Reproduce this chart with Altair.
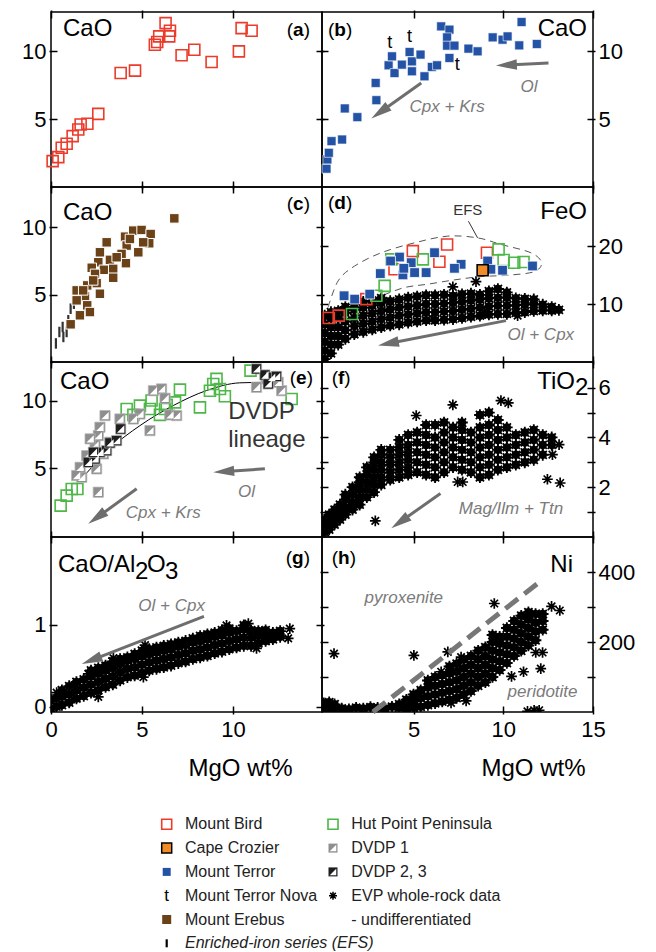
import math
import altair as alt
import pandas as pd

FONT = "Liberation Sans"
W, H = 271, 175
XL = [0.0, 14.9]
XR = [-0.1, 15.0]
Y_A = [0.0, 12.9]
Y_B = [0.0, 12.9]
Y_C = [0.0, 13.0]
Y_D = [0.0, 30.2]
Y_E = [-0.08, 12.85]
Y_F = [0.0, 7.03]
Y_G = [-0.065, 2.065]
Y_H = [0.0, 500.0]

RED = "#ec3b2b"; GREEN = "#4db748"; BLUE = "#2453a6"; BROWN = "#6b4118"; ORANGE = "#f28c28"
DV1 = "#8e8e8e"; DV23 = "#1e1e1e"; GREY = "#6e6e6e"; TGREY = "#7b7b7b"

AST = "M-1,0L1,0M0,-1L0,1M-0.7,-0.7L0.7,0.7M-0.7,0.7L0.7,-0.7"
HEAD = "M0,0L0.5,2L-0.5,2Z"
TRI = "M0.72,-0.72L0.72,0.72L-0.72,0.72Z"
BAR = "M0,-1L0,1"

# ---------------- data ----------------
# (a) Mount Bird, CaO vs MgO
a_bird_mgo = [0.09, 0.40, 0.59, 0.86, 1.19, 1.50, 1.63, 2.00, 2.60, 3.83, 4.62, 5.71, 5.84, 5.95, 6.30, 6.54, 6.50, 7.18, 7.88, 8.83, 10.33, 10.48, 11.03]
a_bird_cao = [1.91, 2.20, 2.89, 3.19, 3.75, 4.24, 4.61, 4.66, 5.39, 8.40, 8.58, 10.49, 10.69, 11.10, 12.08, 11.52, 11.10, 9.71, 10.12, 9.21, 10.00, 11.71, 11.52]

# (b) Mount Terror
b_terror_mgo = [0.15, 0.20, 0.28, 0.43, 1.02, 1.17, 1.87, 2.93, 2.89, 3.61, 3.80, 3.94, 4.35, 4.78, 4.91, 4.91, 5.39, 5.61, 6.02, 6.31, 6.54, 7.00, 6.87, 6.87, 7.28, 7.00, 8.06, 8.57, 9.41, 9.96, 10.24, 10.89, 11.02, 11.87]
b_terror_cao = [1.35, 2.03, 2.52, 3.38, 3.50, 5.79, 5.15, 6.40, 7.67, 8.97, 9.63, 8.40, 9.02, 9.95, 9.26, 8.53, 9.76, 8.16, 8.85, 8.97, 11.84, 11.60, 11.03, 10.42, 10.42, 9.51, 10.20, 10.00, 11.03, 10.86, 11.10, 10.44, 12.16, 10.54]
b_nova_mgo = [3.67, 4.78, 7.43]
b_nova_cao = [10.61, 11.03, 9.02]

# (c) Mount Erebus + EFS
c_erebus_mgo = [6.78, 3.06, 4.07, 4.52, 4.98, 5.48, 5.40, 4.80, 4.16, 3.88, 3.24, 2.69, 2.60, 2.24, 2.91, 3.42, 4.12, 3.42, 2.51, 1.99, 1.41, 2.69, 1.87, 1.99, 2.14, 1.59, 1.41, 1.08, 2.42, 3.61, 4.34, 5.07, 2.32, 1.77]
c_erebus_cao = [10.67, 8.89, 9.31, 9.76, 9.81, 9.51, 8.82, 8.15, 8.65, 8.03, 7.59, 8.15, 7.41, 7.00, 6.85, 6.92, 7.34, 6.26, 5.86, 5.69, 5.32, 5.07, 4.87, 4.21, 3.71, 3.47, 4.58, 2.80, 6.55, 7.78, 9.14, 8.89, 6.06, 5.32]
c_efs_mgo = [0.27, 0.46, 0.64, 0.86, 0.95, 1.08, 1.26, 0.68]
c_efs_cao = [1.38, 2.23, 2.60, 2.23, 3.10, 3.96, 4.33, 1.86]

# (d) FeO
d_bird_mgo = [6.87, 4.96, 6.44, 3.94, 2.37, 0.28, 0.83, 9.09]
d_bird_feo = [20.29, 19.14, 17.31, 16.0, 10.85, 7.59, 8.0, 18.86]
d_hut_mgo = [5.52, 9.74, 10.02, 10.61, 11.13, 3.39, 2.93, 1.57, 3.76]
d_hut_feo = [17.71, 19.43, 17.6, 17.14, 17.26, 13.14, 11.43, 8.28, 17.71]
d_terror_mgo = [4.22, 3.72, 4.87, 6.17, 4.41, 5.06, 5.70, 4.46, 3.15, 7.65, 7.28, 9.13, 9.31, 9.96, 11.63, 1.13, 1.72, 2.56]
d_terror_feo = [18.11, 17.43, 17.14, 18.86, 15.03, 15.43, 15.43, 16.17, 15.26, 16.86, 16.17, 17.43, 16.0, 15.83, 16.57, 11.43, 10.85, 11.71]
d_crozier_mgo = [8.85]
d_crozier_feo = [15.83]
d_efs_envelope = [(0.24, 9.42), (0.8, 14.0), (1.72, 16.57), (3.2, 18.85), (5.06, 20.57), (6.91, 21.72), (8.57, 21.42), (9.87, 20.29), (11.54, 18.85), (12.13, 17.14), (11.72, 15.59), (10.24, 14.97), (8.76, 14.74), (7.28, 14.17), (5.8, 13.43), (4.5, 12.85), (3.2, 11.42), (1.91, 10.0), (0.8, 8.28)]
d_evp = [
    (0.05, 0.5), (0.05, 2.0), (0.05, 3.5), (0.05, 5.0), (0.05, 6.5), (0.05, 8.0),
    (0.4, 1.5), (0.4, 3.0), (0.4, 4.5), (0.4, 6.0), (0.4, 7.5), (0.4, 8.6),
    (0.8, 3.0), (0.8, 4.5), (0.8, 6.0), (0.8, 7.5), (0.8, 8.8),
    (1.2, 4.0), (1.2, 5.5), (1.2, 7.0), (1.2, 8.5), (1.2, 9.5),
    (1.7, 4.8), (1.7, 6.2), (1.7, 7.6), (1.7, 9.0), (1.7, 10.0),
    (2.2, 5.2), (2.2, 6.6), (2.2, 8.0), (2.2, 9.4), (2.2, 10.4),
    (2.7, 5.6), (2.7, 7.0), (2.7, 8.4), (2.7, 9.8), (2.7, 10.6),
    (3.2, 6.0), (3.2, 7.4), (3.2, 8.8), (3.2, 10.2), (3.2, 11.0),
    (3.7, 6.3), (3.7, 7.7), (3.7, 9.1), (3.7, 10.5),
    (4.2, 6.5), (4.2, 8.0), (4.2, 9.4), (4.2, 10.8),
    (4.7, 6.8), (4.7, 8.2), (4.7, 9.6), (4.7, 11.1),
    (5.2, 7.0), (5.2, 8.4), (5.2, 9.8), (5.2, 11.3),
    (5.7, 7.2), (5.7, 8.6), (5.7, 10.0), (5.7, 11.5),
    (6.2, 7.2), (6.2, 8.6), (6.2, 10.0), (6.2, 11.5),
    (6.7, 7.3), (6.7, 8.7), (6.7, 10.1), (6.7, 11.6),
    (7.2, 7.4), (7.2, 8.8), (7.2, 10.2), (7.2, 11.4),
    (7.7, 7.6), (7.7, 9.0), (7.7, 10.4), (7.7, 11.7),
    (8.2, 7.8), (8.2, 9.2), (8.2, 10.6), (8.2, 11.8),
    (8.7, 8.0), (8.7, 9.4), (8.7, 10.8), (8.7, 11.6),
    (9.2, 8.2), (9.2, 9.6), (9.2, 11.0), (9.2, 12.2),
    (9.7, 8.3), (9.7, 9.7), (9.7, 11.1), (9.7, 12.6),
    (10.2, 8.3), (10.2, 9.7), (10.2, 11.1), (10.2, 12.0),
    (10.7, 8.5), (10.7, 9.8), (10.7, 11.0),
    (11.2, 8.6), (11.2, 9.9), (11.2, 10.9),
    (11.7, 8.8), (11.7, 10.0), (11.7, 10.8),
    (12.2, 8.9), (12.2, 9.9), (12.7, 8.9), (12.7, 9.5), (13.1, 9.0),
]
d_evp_outliers = [(7.19, 12.97), (8.48, 13.88), (6.07, 7.42), (10.8, 8.0), (8.94, 8.4), (3.2, 10.68)]

# (e) CaO
e_hut_mgo = [0.53, 0.86, 1.14, 1.45, 4.16, 4.53, 4.89, 5.44, 5.99, 6.36, 6.82, 7.09, 8.19, 8.92, 9.10, 9.29, 9.56, 10.97, 13.23, 5.53, 8.74, 6.27]
e_hut_cao = [2.24, 2.98, 3.47, 3.47, 9.38, 8.94, 9.63, 9.38, 8.94, 9.68, 9.87, 10.81, 9.50, 11.23, 11.60, 10.86, 10.32, 12.21, 10.12, 10.0, 10.73, 9.38]
e_dvdp1_mgo = [5.63, 6.08, 6.27, 6.54, 6.91, 5.44, 4.89, 4.53, 2.97, 2.69, 2.60, 2.42, 1.96, 1.60, 1.69, 2.51, 2.88, 3.24, 2.60, 3.79, 11.30, 11.85, 12.49, 12.68, 2.15, 1.41]
e_dvdp1_cao = [10.73, 10.86, 10.17, 8.94, 8.89, 7.78, 9.01, 8.64, 8.89, 8.03, 7.41, 6.72, 5.93, 5.07, 4.33, 4.95, 6.06, 6.92, 3.23, 8.64, 10.98, 11.60, 11.35, 10.73, 7.17, 4.46]
e_dvdp23_mgo = [2.05, 2.42, 2.69, 3.06, 3.24, 3.61, 3.83, 11.30, 11.76, 12.13, 11.94, 12.40, 2.33]
e_dvdp23_cao = [5.44, 5.69, 6.18, 6.30, 6.87, 7.04, 7.90, 12.34, 11.89, 11.72, 11.23, 11.79, 6.18]
e_lineage = [(1.59, 4.09), (3.24, 6.43), (4.89, 8.15), (6.72, 9.63), (8.55, 10.74), (10.38, 11.31), (11.85, 11.35)]

# (f) TiO2
f_evp = [
    (0.05, 0.2), (0.05, 0.45), (0.05, 0.7), (0.3, 0.3), (0.3, 0.6), (0.3, 0.9),
    (0.6, 0.5), (0.6, 0.8), (0.6, 1.1), (0.9, 0.7), (0.9, 1.0), (0.9, 1.3),
    (1.2, 0.9), (1.2, 1.2), (1.2, 1.5), (1.2, 1.7),
    (1.6, 1.1), (1.6, 1.4), (1.6, 1.7), (1.6, 2.0),
    (2.0, 1.3), (2.0, 1.6), (2.0, 1.9), (2.0, 2.2), (2.0, 2.4),
    (2.4, 1.6), (2.4, 1.9), (2.4, 2.2), (2.4, 2.5), (2.4, 2.8),
    (2.8, 1.8), (2.8, 2.1), (2.8, 2.4), (2.8, 2.7), (2.8, 3.0), (2.8, 3.2),
    (3.2, 2.1), (3.2, 2.4), (3.2, 2.7), (3.2, 3.0), (3.2, 3.3), (3.2, 3.5),
    (3.7, 2.3), (3.7, 2.6), (3.7, 2.9), (3.7, 3.2), (3.7, 3.5),
    (4.2, 2.4), (4.2, 2.7), (4.2, 3.0), (4.2, 3.3), (4.2, 3.6), (4.2, 3.9),
    (4.7, 2.5), (4.7, 2.8), (4.7, 3.1), (4.7, 3.4), (4.7, 3.7), (4.7, 4.1),
    (5.2, 2.6), (5.2, 3.0), (5.2, 3.4), (5.2, 3.8), (5.2, 4.2),
    (5.7, 2.5), (5.7, 2.9), (5.7, 3.3), (5.7, 3.7), (5.7, 4.1), (5.7, 4.5),
    (6.2, 2.4), (6.2, 2.8), (6.2, 3.2), (6.2, 3.6), (6.2, 4.0), (6.2, 4.5),
    (6.7, 2.6), (6.7, 3.0), (6.7, 3.4), (6.7, 3.8), (6.7, 4.2), (6.7, 4.6),
    (7.2, 2.8), (7.2, 3.2), (7.2, 3.6), (7.2, 4.0), (7.2, 4.4),
    (7.7, 2.7), (7.7, 3.1), (7.7, 3.5), (7.7, 3.9), (7.7, 4.3), (7.7, 4.6),
    (8.2, 2.6), (8.2, 3.0), (8.2, 3.4), (8.2, 3.8), (8.2, 4.2),
    (8.7, 2.4), (8.7, 2.8), (8.7, 3.2), (8.7, 3.6), (8.7, 4.0), (8.7, 4.4), (8.7, 4.9),
    (9.2, 2.5), (9.2, 2.9), (9.2, 3.3), (9.2, 3.7), (9.2, 4.1), (9.2, 4.5), (9.2, 5.0),
    (9.7, 2.7), (9.7, 3.1), (9.7, 3.5), (9.7, 3.9), (9.7, 4.3), (9.7, 4.7),
    (10.2, 2.8), (10.2, 3.2), (10.2, 3.6), (10.2, 4.0), (10.2, 4.4),
    (10.7, 2.9), (10.7, 3.3), (10.7, 3.7), (10.7, 4.1),
    (11.2, 3.0), (11.2, 3.4), (11.2, 3.8), (11.2, 4.2),
    (11.7, 3.1), (11.7, 3.5), (11.7, 3.9), (11.7, 4.3),
    (12.2, 3.3), (12.2, 3.7), (12.2, 4.1), (12.7, 3.7), (12.7, 4.0),
]
f_evp_outliers = [(7.19, 5.31), (9.87, 5.48), (10.28, 5.39), (5.15, 4.88), (7.46, 2.21), (7.74, 2.21),
                  (12.46, 2.32), (13.17, 2.17), (2.87, 0.65), (12.74, 3.31), (13.11, 3.71)]

# (g) CaO/Al2O3
g_evp = [
    (0.0, -0.02), (0.0, 0.08), (0.3, 0.0), (0.3, 0.1), (0.6, 0.02), (0.6, 0.12), (0.6, 0.2),
    (1.0, 0.05), (1.0, 0.15), (1.0, 0.25), (1.4, 0.1), (1.4, 0.2), (1.4, 0.3),
    (1.8, 0.13), (1.8, 0.23), (1.8, 0.33), (2.2, 0.17), (2.2, 0.27), (2.2, 0.37), (2.2, 0.44),
    (2.6, 0.2), (2.6, 0.3), (2.6, 0.4), (2.6, 0.47), (3.0, 0.24), (3.0, 0.34), (3.0, 0.44), (3.0, 0.5),
    (3.4, 0.27), (3.4, 0.37), (3.4, 0.47), (3.4, 0.55), (3.8, 0.32), (3.8, 0.42), (3.8, 0.52), (3.8, 0.58),
    (4.2, 0.36), (4.2, 0.46), (4.2, 0.56), (4.2, 0.6), (4.6, 0.38), (4.6, 0.48), (4.6, 0.58), (4.6, 0.64),
    (5.0, 0.41), (5.0, 0.51), (5.0, 0.61), (5.0, 0.68), (5.4, 0.44), (5.4, 0.54), (5.4, 0.64), (5.4, 0.7),
    (5.8, 0.46), (5.8, 0.56), (5.8, 0.66), (5.8, 0.72), (6.2, 0.48), (6.2, 0.58), (6.2, 0.68), (6.2, 0.74),
    (6.6, 0.5), (6.6, 0.6), (6.6, 0.7), (6.6, 0.76), (7.0, 0.53), (7.0, 0.63), (7.0, 0.73), (7.0, 0.78),
    (7.4, 0.55), (7.4, 0.65), (7.4, 0.75), (7.4, 0.8), (7.8, 0.58), (7.8, 0.68), (7.8, 0.78), (7.8, 0.83),
    (8.2, 0.6), (8.2, 0.7), (8.2, 0.8), (8.2, 0.86), (8.6, 0.62), (8.6, 0.72), (8.6, 0.82), (8.6, 0.88),
    (9.0, 0.65), (9.0, 0.75), (9.0, 0.85), (9.0, 0.9), (9.4, 0.67), (9.4, 0.77), (9.4, 0.87), (9.4, 0.93),
    (9.8, 0.7), (9.8, 0.8), (9.8, 0.9), (9.8, 0.95), (10.2, 0.72), (10.2, 0.82), (10.2, 0.92),
    (10.6, 0.74), (10.6, 0.84), (10.6, 0.94), (10.6, 0.99), (11.0, 0.74), (11.0, 0.84), (11.0, 0.93),
    (11.4, 0.77), (11.4, 0.86), (11.4, 0.92), (11.8, 0.8), (11.8, 0.88), (11.8, 0.93),
    (12.2, 0.82), (12.2, 0.9), (12.6, 0.85), (12.6, 0.92),
]
g_evp_outliers = [(5.17, 0.75), (3.43, 0.59), (2.6, 0.12), (2.05, 0.40), (13.13, 0.95), (13.04, 0.83),
                  (5.08, 0.36), (1.38, 0.27), (0.31, 0.17), (10.85, 1.01), (9.65, 0.99), (11.3, 0.71)]

# (h) Ni
h_evp = [
    (0.0, 8), (0.0, 25), (0.3, 10), (0.3, 28), (0.6, 8), (0.6, 22), (1.0, 10), (1.4, 8), (1.8, 12),
    (2.2, 10), (2.6, 14), (3.0, 12), (3.4, 10), (3.8, 15), (4.2, 12), (4.2, 22), (4.6, 10), (4.6, 25), (4.6, 35),
    (5.0, 12), (5.0, 30), (5.0, 50), (5.4, 15), (5.4, 40), (5.4, 62),
    (5.8, 20), (5.8, 45), (5.8, 70), (5.8, 90), (6.2, 25), (6.2, 50), (6.2, 75), (6.2, 100),
    (6.6, 30), (6.6, 55), (6.6, 80), (6.6, 105), (7.0, 35), (7.0, 60), (7.0, 85), (7.0, 110), (7.0, 130),
    (7.4, 40), (7.4, 65), (7.4, 90), (7.4, 115), (7.4, 138), (7.8, 50), (7.8, 75), (7.8, 100), (7.8, 125), (7.8, 150),
    (8.2, 60), (8.2, 85), (8.2, 110), (8.2, 135), (8.2, 160), (8.6, 75), (8.6, 100), (8.6, 125), (8.6, 150), (8.6, 175),
    (9.0, 85), (9.0, 110), (9.0, 135), (9.0, 160), (9.0, 185),
    (9.4, 100), (9.4, 125), (9.4, 150), (9.4, 175), (9.4, 200), (9.4, 220),
    (9.8, 120), (9.8, 145), (9.8, 170), (9.8, 195), (9.8, 215),
    (10.2, 140), (10.2, 165), (10.2, 190), (10.2, 215), (10.2, 240),
    (10.6, 160), (10.6, 185), (10.6, 210), (10.6, 235), (10.6, 260),
    (11.0, 175), (11.0, 200), (11.0, 225), (11.0, 250), (11.0, 275),
    (11.4, 190), (11.4, 215), (11.4, 240), (11.4, 265), (11.4, 285),
    (11.8, 205), (11.8, 230), (11.8, 255), (11.8, 280), (12.2, 235), (12.2, 260), (12.2, 280),
]
h_evp_outliers = [(0.57, 167), (5.02, 162), (9.5, 310), (10.46, 102), (11.13, 115), (12.09, 124), (11.81, 170),
                  (12.19, 170), (11.35, 2), (12.0, 5), (7.93, 32), (7.09, 26), (6.91, 172), (12.69, 302),
                  (13.15, 290), (7.65, 157), (6.54, 115), (11.72, 5)]
h_split_line = [(2.74, 0), (11.91, 367)]

# arrows: (x_start, y_start, x_tip, y_tip)
b_arrow_ol = (12.52, 9.14, 9.59, 8.95)
b_arrow_cpx = (5.43, 7.67, 2.65, 5.05)
d_arrow = (10.15, 7.14, 3.02, 2.85)
e_arrow_cpx = (4.71, 3.48, 2.05, 0.89)
e_arrow_ol = (11.76, 4.96, 8.92, 4.70)
f_arrow = (6.5, 1.75, 3.76, 0.35)
g_arrow = (8.41, 1.10, 1.69, 0.52)

LEG_LEFT = ["Mount Bird", "Cape Crozier", "Mount Terror", "Mount Terror Nova", "Mount Erebus", "Enriched-iron series (EFS)"]
LEG_RIGHT = ["Hut Point Peninsula", "DVDP 1", "DVDP 2, 3", "EVP whole-rock data", "- undifferentiated"]
KEYS_LEFT = ["bird", "crozier", "terror", "nova", "erebus", "efs"]
KEYS_RIGHT = ["hut", "dvdp1", "dvdp23", "evp", "none"]


# ---------------- helpers ----------------
def S(dom):
    return alt.Scale(domain=dom, nice=False, zero=False)


def exy(xd, yd, xf="x", yf="y"):
    return dict(x=alt.X(f"{xf}:Q", scale=S(xd), axis=None),
                y=alt.Y(f"{yf}:Q", scale=S(yd), axis=None))


def dfxy(xs, ys):
    return pd.DataFrame({"x": xs, "y": ys})


def dfp(p):
    return pd.DataFrame(p, columns=["x", "y"])


def m_ast(df, xd, yd, size=135, sw=1.8):
    return alt.Chart(df).mark_point(shape=AST, filled=False, color="black", size=size,
                                    strokeWidth=sw, opacity=1, clip=True).encode(**exy(xd, yd))


def m_cloud(core, outl, xd, yd):
    dfc = dfp(core)
    disc = alt.Chart(dfc).mark_circle(color="black", size=72, opacity=1, clip=True).encode(**exy(xd, yd))
    return [disc, m_ast(dfc, xd, yd), m_ast(dfp(outl), xd, yd, size=115, sw=1.7)]


def m_open(df, xd, yd, color, size=121):
    return alt.Chart(df).mark_point(shape="square", filled=False, color=color, size=size,
                                    strokeWidth=1.6, opacity=1).encode(**exy(xd, yd))


def m_fill(df, xd, yd, color, size=85, stroke="white", sw=0.8):
    return alt.Chart(df).mark_point(shape="square", filled=True, fill=color, stroke=stroke,
                                    strokeWidth=sw, size=size, opacity=1).encode(**exy(xd, yd))


def m_dvdp(df, xd, yd, color, size=105):
    sq = m_fill(df, xd, yd, color, size=size, stroke="#b5b5b5", sw=0.7)
    tri = alt.Chart(df).mark_point(shape=TRI, filled=True, color="white", size=size,
                                   opacity=1).encode(**exy(xd, yd))
    return [sq, tri]


def arrow(a, xd, yd, width=3, hsize=440):
    x1, y1, x2, y2 = a
    kx = W / (xd[1] - xd[0])
    ky = H / (yd[1] - yd[0])
    dx = (x2 - x1) * kx
    dy = -(y2 - y1) * ky
    L = math.hypot(dx, dy)
    ang = math.degrees(math.atan2(dx, -dy)) % 360
    back = 12.0
    xs = x2 - (dx / L) * back / kx
    ys = y2 + (dy / L) * back / ky
    df = pd.DataFrame({"x": [x1], "y": [y1], "xe": [xs], "ye": [ys], "xt": [x2], "yt": [y2]})
    shaft = alt.Chart(df).mark_rule(color=GREY, strokeWidth=width).encode(
        x=alt.X("x:Q", scale=S(xd), axis=None), y=alt.Y("y:Q", scale=S(yd), axis=None),
        x2="xe:Q", y2="ye:Q")
    head = alt.Chart(df).mark_point(shape=HEAD, filled=True, color=GREY, size=hsize, opacity=1,
                                    angle=ang).encode(**exy(xd, yd, "xt", "yt"))
    return [shaft, head]


def t_data(x, y, text, xd, yd, size=17, color=TGREY, italic=True, align="center",
           baseline="middle"):
    df = pd.DataFrame({"x": [x], "y": [y], "t": [text]})
    return alt.Chart(df).mark_text(font=FONT, fontSize=size, color=color,
                                   fontStyle="italic" if italic else "normal",
                                   align=align, baseline=baseline).encode(**exy(xd, yd), text="t:N")


def t_px(px, py, text, size=24, bold=False, align="left"):
    return alt.Chart(pd.DataFrame({"t": [text]})).mark_text(
        font=FONT, fontSize=size, fontWeight="bold" if bold else "normal", align=align,
        baseline="alphabetic", color="black").encode(x=alt.value(px), y=alt.value(py), text="t:N")


BOLDW = {"a": .556, "b": .611, "c": .556, "d": .611, "e": .556, "f": .333, "g": .611, "h": .611}


def tag(letter, px, py, right=False, size=19):
    pw = 0.333 * size
    lw = BOLDW[letter] * size
    x0 = px - 2 * pw - lw if right else px
    return [t_px(x0, py, "(", size), t_px(x0 + pw, py, letter, size, bold=True),
            t_px(x0 + pw + lw, py, ")", size)]


def panel(xd, yd, xvals, yvals, left, layers, bottom=False, ylabel_expr=None, title_x=None):
    df = pd.DataFrame({"x": xd, "y": yd})
    common = dict(domain=False, grid=False, ticks=True, tickSize=8, offset=-6, tickColor="black",
                  tickWidth=1.5, labelFont=FONT, labelFontSize=22, labelColor="black",
                  labelPadding=3, labelFlush=False)
    if bottom:
        xb = alt.Axis(orient="bottom", values=xvals, labels=True, title="MgO wt%",
                      titleFont=FONT, titleFontSize=24, titleFontWeight="normal",
                      titleColor="black", titleX=title_x, titleY=69.5, titleAlign="left",
                      titleBaseline="alphabetic", labelPadding=5,
                      **{k: v for k, v in common.items() if k != "labelPadding"})
    else:
        xb = alt.Axis(orient="bottom", values=xvals, labels=False, title=None, **common)
    xt = alt.Axis(orient="top", values=xvals, labels=False, title=None, **common)
    ykw = dict(values=yvals, title=None, **common)
    if ylabel_expr:
        ykw["labelExpr"] = ylabel_expr
    yl = alt.Axis(orient="left", labels=left, **ykw)
    yr = alt.Axis(orient="right", labels=not left, **ykw)
    l1 = alt.Chart(df).mark_point(opacity=0).encode(
        x=alt.X("x:Q", scale=S(xd), axis=xb), y=alt.Y("y:Q", scale=S(yd), axis=yl))
    l2 = alt.Chart(df).mark_point(opacity=0).encode(
        x=alt.X("x:Q", scale=S(xd), axis=xt), y=alt.Y("y:Q", scale=S(yd), axis=yr))
    return alt.layer(l1, l2, *layers).resolve_axis(x="independent", y="independent").properties(
        width=W, height=H)


# ---------------- panels ----------------
pa = panel(XL, Y_A, [0, 5, 10], [5, 10], True, [
    m_open(dfxy(a_bird_mgo, a_bird_cao), XL, Y_A, RED),
    t_px(12, 24.3, "CaO"), *tag("a", 259, 23.6, right=True),
])

pb = panel(XR, Y_B, [5, 10, 15], [5, 10], False, [
    m_fill(dfxy(b_terror_mgo, b_terror_cao), XR, Y_B, BLUE, size=80, sw=0.6),
    *[t_data(x, y, "t", XR, Y_B, size=18, color="black", italic=False)
      for x, y in zip(b_nova_mgo, b_nova_cao)],
    *arrow(b_arrow_ol, XR, Y_B), *arrow(b_arrow_cpx, XR, Y_B),
    t_data(11.44, 7.35, "Ol", XR, Y_B), t_data(6.87, 5.88, "Cpx + Krs", XR, Y_B),
    t_px(265, 23.6, "CaO", align="right"), *tag("b", 6, 24.3),
])

efs_df = dfxy(c_efs_mgo, c_efs_cao)
pc = panel(XL, Y_C, [0, 5, 10], [5, 10], True, [
    alt.Chart(efs_df).mark_point(shape=BAR, filled=False, color="#333333", size=110,
                                 strokeWidth=2.2, opacity=1).encode(**exy(XL, Y_C)),
    m_fill(dfxy(c_erebus_mgo, c_erebus_cao), XL, Y_C, BROWN, size=90, sw=1),
    t_px(12, 32.8, "CaO"), *tag("c", 259, 22.8, right=True),
])

env = dfp(d_efs_envelope)
env["i"] = range(len(env))
efs_lead = pd.DataFrame({"x": [8.06], "y": [24.29], "x2": [8.57], "y2": [21.42]})
pd_ = panel(XR, Y_D, [5, 10, 15], [10, 20], False, [
    alt.Chart(env).mark_line(color="#555555", strokeWidth=1, strokeDash=[7, 5],
                             interpolate="cardinal").encode(**exy(XR, Y_D), order="i:Q"),
    alt.Chart(efs_lead).mark_rule(color="#333333", strokeWidth=1).encode(
        **exy(XR, Y_D), x2="x2:Q", y2="y2:Q"),
    t_data(8.02, 26.3, "EFS", XR, Y_D, size=15, color="#333333", italic=False),
    *m_cloud(d_evp, d_evp_outliers, XR, Y_D),
    *arrow(d_arrow, XR, Y_D),
    t_data(12.09, 4.73, "Ol + Cpx", XR, Y_D),
    m_open(dfxy(d_bird_mgo, d_bird_feo), XR, Y_D, RED),
    m_open(dfxy(d_hut_mgo, d_hut_feo), XR, Y_D, GREEN),
    m_fill(dfxy(d_terror_mgo, d_terror_feo), XR, Y_D, BLUE, size=95, sw=0.8),
    m_fill(dfxy(d_crozier_mgo, d_crozier_feo), XR, Y_D, ORANGE, size=120, stroke="black", sw=1.6),
    t_px(265, 31.8, "FeO", align="right"), *tag("d", 6, 21.8),
])

lin = dfp(e_lineage)
pe = panel(XL, Y_E, [0, 5, 10], [5, 10], True, [
    alt.Chart(lin).mark_line(color="black", strokeWidth=1, interpolate="monotone").encode(**exy(XL, Y_E)),
    m_open(dfxy(e_hut_mgo, e_hut_cao), XL, Y_E, GREEN),
    *m_dvdp(dfxy(e_dvdp1_mgo, e_dvdp1_cao), XL, Y_E, DV1),
    *m_dvdp(dfxy(e_dvdp23_mgo, e_dvdp23_cao), XL, Y_E, DV23),
    *arrow(e_arrow_cpx, XL, Y_E), *arrow(e_arrow_ol, XL, Y_E),
    t_data(6.17, 1.7, "Cpx + Krs", XL, Y_E), t_data(10.75, 3.23, "Ol", XL, Y_E),
    t_data(9.74, 8.65, "DVDP", XL, Y_E, size=24, color="#333333", italic=False, align="left",
           baseline="alphabetic"),
    t_data(9.74, 6.55, "lineage", XL, Y_E, size=24, color="#333333", italic=False, align="left",
           baseline="alphabetic"),
    t_px(9, 26.8, "CaO"), *tag("e", 262, 21.8, right=True),
])

pf = panel(XR, Y_F, [5, 10, 15], [1, 2, 3, 4, 5, 6], False, [
    *m_cloud(f_evp, f_evp_outliers, XR, Y_F),
    *arrow(f_arrow, XR, Y_F),
    t_data(10.43, 1.12, "Mag/Ilm + Ttn", XR, Y_F),
    t_px(253, 26.8, "TiO", align="right"), t_px(253, 32.8, "2"),
    *tag("f", 9.7, 21.8),
], ylabel_expr="datum.value % 2 == 0 ? datum.label : ''")

pg = panel(XL, Y_G, [0, 5, 10], [0, 1], True, [
    *m_cloud(g_evp, g_evp_outliers, XL, Y_G),
    *arrow(g_arrow, XL, Y_G),
    t_data(6.63, 1.22, "Ol + Cpx", XL, Y_G),
    t_px(7, 35.2, "CaO/Al"), t_px(84, 41.8, "2"), t_px(96, 35.2, "O"), t_px(114, 41.8, "3"),
    *tag("g", 259, 26.8, right=True),
], bottom=True, title_x=137)

ph = panel(XR, Y_H, [5, 10, 15], [100, 200, 300, 400], False, [
    *m_cloud(h_evp, h_evp_outliers, XR, Y_H),
    alt.Chart(dfp(h_split_line)).mark_line(color="#777777", strokeWidth=5,
                                           strokeDash=[16, 8]).encode(**exy(XR, Y_H)),
    t_data(4.46, 327, "pyroxenite", XR, Y_H),
    t_data(12.19, 57, "peridotite", XR, Y_H),
    t_px(251, 35.2, "Ni", align="right"), *tag("h", 9.7, 26.8),
], bottom=True, title_x=159, ylabel_expr="datum.value % 200 == 0 ? datum.label : ''")

# ---------------- legend ----------------
leg = pd.DataFrame({"c": [0] * 6 + [1] * 5, "r": list(range(6)) + list(range(5)),
                    "label": LEG_LEFT + LEG_RIGHT, "key": KEYS_LEFT + KEYS_RIGHT})
LX = alt.Scale(domain=[0, 1], range=[115.7, 282])
LY = alt.Scale(domain=[0, 5], range=[112.3, 231.3])
LENC = dict(x=alt.X("c:Q", scale=LX, axis=None), y=alt.Y("r:Q", scale=LY, axis=None))
lbase = alt.Chart(leg)


def lf(k):
    return lbase.transform_filter(alt.datum.key == k)


legend = alt.layer(
    lf("bird").mark_point(shape="square", filled=False, color=RED, size=100, strokeWidth=1.6, opacity=1).encode(**LENC),
    lf("crozier").mark_point(shape="square", filled=True, fill=ORANGE, stroke="black", strokeWidth=1.5, size=100, opacity=1).encode(**LENC),
    lf("terror").mark_point(shape="square", filled=True, color=BLUE, size=64, opacity=1).encode(**LENC),
    lf("nova").mark_text(text="t", font=FONT, fontSize=17, color="black").encode(**LENC),
    lf("erebus").mark_point(shape="square", filled=True, color=BROWN, size=81, opacity=1).encode(**LENC),
    lf("efs").mark_point(shape=BAR, filled=False, color="black", size=64, strokeWidth=2.2, opacity=1).encode(**LENC),
    lf("hut").mark_point(shape="square", filled=False, color=GREEN, size=100, strokeWidth=1.6, opacity=1).encode(**LENC),
    lf("dvdp1").mark_point(shape="square", filled=True, color=DV1, size=81, opacity=1).encode(**LENC),
    lf("dvdp1").mark_point(shape=TRI, filled=True, color="white", size=81, opacity=1).encode(**LENC),
    lf("dvdp23").mark_point(shape="square", filled=True, color=DV23, size=81, opacity=1).encode(**LENC),
    lf("dvdp23").mark_point(shape=TRI, filled=True, color="white", size=81, opacity=1).encode(**LENC),
    lf("evp").mark_point(shape=AST, filled=False, color="black", size=64, strokeWidth=1.5, opacity=1).encode(**LENC),
    lbase.transform_filter(alt.datum.key != "efs").mark_text(
        font=FONT, fontSize=16, color="#222222", align="left", baseline="middle", dx=18.3
    ).encode(**LENC, text="label:N"),
    lbase.transform_filter(alt.datum.key == "efs").mark_text(
        font=FONT, fontSize=16, color="#222222", align="left", baseline="middle", dx=18.3,
        fontStyle="italic").encode(**LENC, text="label:N"),
).properties(width=W, height=238, view=alt.ViewBackground(strokeOpacity=0))

chart = alt.concat(pa, pb, pc, pd_, pe, pf, pg, ph, legend, columns=2, spacing=0,
                   bounds="flush").properties(
    padding={"left": 20, "top": 8, "right": 0, "bottom": 0}
).configure(font=FONT).configure_view(stroke="black", strokeWidth=1.5)

chart.save("out.html", embed_options={"renderer": "svg", "actions": False})
